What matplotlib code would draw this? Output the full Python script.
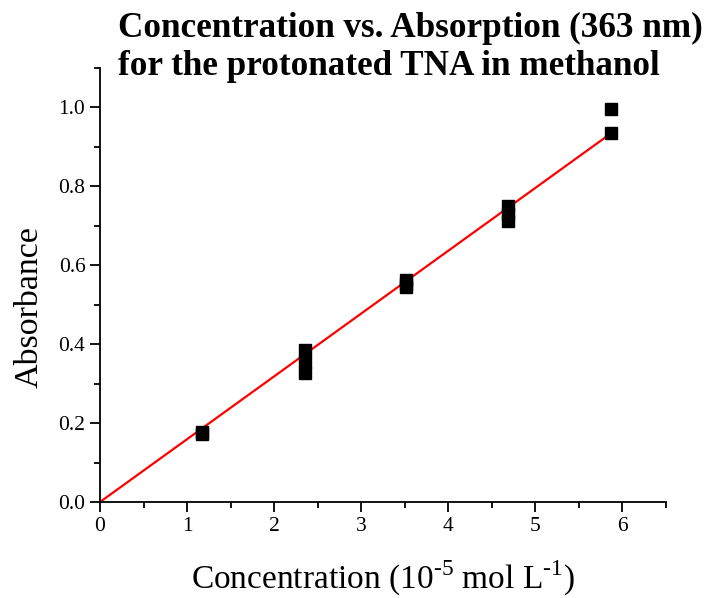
import numpy as np
import matplotlib.pyplot as plt
from matplotlib.ticker import MultipleLocator

plt.rcParams["font.family"] = ["Liberation Serif", "DejaVu Serif"]
plt.rcParams["mathtext.fontset"] = "custom"
plt.rcParams["mathtext.rm"] = "Liberation Serif"

# concentration (1e-5 mol/L) and measured absorbance at 363 nm
conc = [1.17, 1.17, 2.35, 2.35, 2.35, 3.52, 3.52, 3.52,
        4.69, 4.69, 4.69, 5.87, 5.87]
absorb = [0.178, 0.172, 0.386, 0.356, 0.326, 0.562, 0.552, 0.545,
          0.750, 0.730, 0.712, 0.995, 0.934]
fit_x = [0.0, 5.87]
slope = 0.1592

fig = plt.figure(figsize=(7.11, 5.98), dpi=100)
ax = fig.add_axes([0.1406, 0.1605, 0.796, 0.7258])

ax.plot(fit_x, [slope * v for v in fit_x], color="red", lw=1.6, zorder=2)
ax.plot(conc, absorb, "s", color="black", ms=8, zorder=3)

ax.set_xlim(0, 6.5)
ax.set_ylim(0, 1.1)
ax.xaxis.set_major_locator(MultipleLocator(1))
ax.xaxis.set_minor_locator(MultipleLocator(0.5))
ax.yaxis.set_major_locator(MultipleLocator(0.2))
ax.yaxis.set_minor_locator(MultipleLocator(0.1))
ax.yaxis.set_major_formatter(plt.FuncFormatter(lambda v, p: f"{v:.1f}"))

for s in ["top", "right"]:
    ax.spines[s].set_visible(False)
for s in ["left", "bottom"]:
    ax.spines[s].set_linewidth(1.3)
ax.tick_params(which="major", direction="out", length=7, width=1.3, labelsize=15.5)
ax.tick_params(which="minor", direction="out", length=4, width=1.3)

ax.set_xlabel(r"Concentration (10$^{\text{-5}}$ mol L$^{\text{-1}}$)", fontsize=24, labelpad=17)
ax.set_ylabel("Absorbance", fontsize=24.5)
ax.yaxis.set_label_coords(-0.097, 0.449)

fig.text(118 / 711, 1 - 12 / 598,
         "Concentration vs. Absorption (363 nm)\nfor the protonated TNA in methanol",
         ha="left", va="top", fontsize=25.3, fontweight="bold", linespacing=1.2)

fig.savefig("out.png", dpi=100)
